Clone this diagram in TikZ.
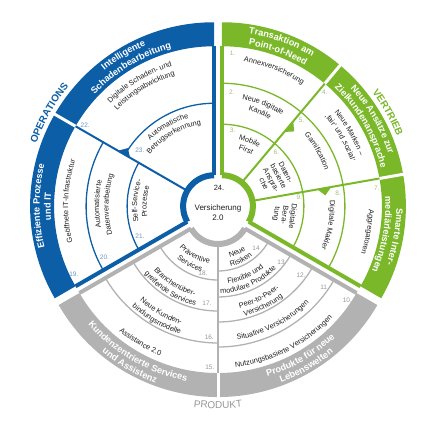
\documentclass[tikz,border=0pt]{standalone}
\usepackage{fontspec}
\setmainfont{Liberation Sans}
\setsansfont{Liberation Sans}
\usetikzlibrary{decorations.text}
\definecolor{opsBlue}   {RGB}{ 12, 94,166}
\definecolor{salesGreen}{RGB}{122,184, 42}
\definecolor{prodGray}  {RGB}{178,178,178}
\definecolor{itemText}  {RGB}{ 30, 30, 30}
\definecolor{numBlue}   {RGB}{110,150,195}
\definecolor{numGreen}  {RGB}{160,190,125}
\definecolor{numGray}   {RGB}{150,150,150}

\newcommand{\bandfont}{\bfseries\fontsize{9.2}{9.2}\selectfont}
\newcommand{\itemfont}{\fontsize{7.4}{8.2}\selectfont}
\newcommand{\titlefont}{\bfseries\fontsize{10}{10}\selectfont}
%% text on an arc: centre angle, baseline radius, colour, font, text
\newcommand{\cwtext}[5]{%
  \path[decorate, decoration={text along path, text align=center,
        text color=#3, text={|#4|#5}}]
    ({#1+50}:{#2}) arc[start angle={#1+50}, end angle={#1-50}, radius={#2}];}
\newcommand{\ccwtext}[5]{%
  \path[decorate, decoration={text along path, text align=center,
        text color=#3, text={|#4|#5}}]
    ({#1-50}:{#2}) arc[start angle={#1-50}, end angle={#1+50}, radius={#2}];}

\begin{document}
\begin{tikzpicture}[x=1pt, y=1pt,
  %% Outer edge of a sector
  rim/.style={line width=4pt},
  %% Divider between two fields
  split/.style={line width=2pt},
  %% Ring between two items
  ring/.style={line width=1.3pt},
  %% Ring round the centre
  hub/.style={line width=6pt},
  %% Item number
  num/.style={font=\fontsize{6.5}{6.5}\selectfont, inner sep=0pt},
  %% Straight item text
  item/.style={font=\itemfont, text=itemText, align=center, inner sep=0pt},
]
\useasboundingbox (-218,-220.5) rectangle (228,208.5);

%% ── Radii ───────────────────────────────────────────────────────────────────
\def\rOut{184}
\def\rIn{160}
\def\rHub{31}

%% ── OPERATIONS (blue) ──────────────────────────────────────────────────────
\begin{scope}[shift={(150:4.5)}]
  \fill[opsBlue] (90:\rOut) arc[start angle=90, end angle=210, radius=\rOut]
    -- (210:\rIn) arc[start angle=210, end angle=90, radius=\rIn] -- cycle;
  \draw[white, line width=3pt] (150:{\rIn-1}) -- (150:{\rOut+1});
  \draw[opsBlue, rim] (90:\rHub) -- (90:\rIn);
  \draw[opsBlue, rim] (210:\rHub) -- (210:\rIn);
  \draw[opsBlue, split] (150:\rHub) -- (150:\rIn);
  \draw[opsBlue, hub] (90:\rHub) arc[start angle=90, end angle=210, radius=\rHub];
  \draw[opsBlue, ring] (90:103) arc[start angle=90, end angle=150, radius=103];
  \draw[opsBlue, ring] (150:128) arc[start angle=150, end angle=210, radius=128];
  \draw[opsBlue, ring] (150:87) arc[start angle=150, end angle=210, radius=87];
  \fill[opsBlue] (150:97) -- (150:111) -- (146:104) -- cycle;

  \cwtext{121}{174.5}{white}{\bandfont}{Intelligente}
  \cwtext{121}{163.5}{white}{\bandfont}{Schadenbearbeitung}
  \cwtext{180}{174.5}{white}{\bandfont}{Effiziente Prozesse}
  \cwtext{180}{163.5}{white}{\bandfont}{und IT}

  \cwtext{121}{146}{itemText}{\itemfont}{Digitale Schaden- und}
  \cwtext{121}{136.5}{itemText}{\itemfont}{Leistungsabwicklung}
  \cwtext{120}{92}{itemText}{\itemfont}{Automatische}
  \cwtext{120}{82.5}{itemText}{\itemfont}{Betrugserkennung}
  \cwtext{178}{146}{itemText}{\itemfont}{Geöffnete IT-Infrastruktur}
  \cwtext{179}{115}{itemText}{\itemfont}{Automatisierte}
  \cwtext{179}{105.5}{itemText}{\itemfont}{Datenverarbeitung}
  \cwtext{176}{77}{itemText}{\itemfont}{Self-Service-}
  \cwtext{176}{67.5}{itemText}{\itemfont}{Prozesse}

  \node[num, text=numBlue] (n19) at (206:156) {19.};
  \node[num, text=numBlue] (n20) at (205:121) {20.};
  \node[num, text=numBlue] (n21) at (202:80) {21.};
  \node[num, text=numBlue] (n22) at (148:152) {22.};
  \node[num, text=numBlue] (n23) at (143:93) {23.};
\end{scope}

%% ── VERTRIEB (green) ───────────────────────────────────────────────────────
\begin{scope}[shift={(30:4.5)}]
  \fill[salesGreen] (90:\rOut) arc[start angle=90, end angle=-30, radius=\rOut]
    -- (-30:\rIn) arc[start angle=-30, end angle=90, radius=\rIn] -- cycle;
  \draw[white, line width=3pt] (50:{\rIn-1}) -- (50:{\rOut+1});
  \draw[white, line width=3pt] (10:{\rIn-1}) -- (10:{\rOut+1});
  \draw[salesGreen, rim] (90:\rHub) -- (90:\rIn);
  \draw[salesGreen, rim] (-30:\rHub) -- (-30:\rIn);
  \draw[salesGreen, split] (50:\rHub) -- (50:\rIn);
  \draw[salesGreen, split] (10:\rHub) -- (10:\rIn);
  \draw[salesGreen, hub] (90:\rHub) arc[start angle=90, end angle=-30, radius=\rHub];
  \draw[salesGreen, ring] (90:123) arc[start angle=90, end angle=-30, radius=123];
  \draw[salesGreen, ring] (90:82) arc[start angle=90, end angle=-30, radius=82];
  \fill[salesGreen] (50:97) -- (50:111) -- (46:104) -- cycle;
  \fill[salesGreen] (10:97) -- (10:111) -- (6:104) -- cycle;

  \cwtext{70}{174.5}{white}{\bandfont}{Transaktion am}
  \cwtext{70}{163.5}{white}{\bandfont}{Point-of-Need}
  \cwtext{30}{174.5}{white}{\bandfont}{Neue Ansätze zur}
  \cwtext{30}{163.5}{white}{\bandfont}{Zielkundenansprache}
  \cwtext{-10}{174.5}{white}{\bandfont}{Smarte Inter-}
  \cwtext{-10}{163.5}{white}{\bandfont}{mediärleistungen}

  \cwtext{69}{146}{itemText}{\itemfont}{Annexversicherung}
  \cwtext{68}{109}{itemText}{\itemfont}{Neue digitale}
  \cwtext{68}{99.5}{itemText}{\itemfont}{Kanäle}
  \cwtext{67}{69}{itemText}{\itemfont}{Mobile}
  \cwtext{67}{59.5}{itemText}{\itemfont}{First}
  \cwtext{30}{146.5}{itemText}{\itemfont}{Neue Marken –}
  \cwtext{30}{136.5}{itemText}{\itemfont}{‚fair‘ und ‚sozial‘}
  \cwtext{30}{109}{itemText}{\itemfont}{Gamification}
  \node[item, rotate=-62] (dat) at (28:60) {Daten-\\basierte\\Anspra-\\che};
  \cwtext{-10}{147}{itemText}{\itemfont}{Aggregatoren}
  \cwtext{-10}{108}{itemText}{\itemfont}{Digitale Makler}
  \node[item, rotate=-98] (dig) at (-8:63) {Digitale\\Bera-\\tung};

  \node[num, text=numGreen] (n1) at (86:153) {1.};
  \node[num, text=numGreen] (n2) at (85:114) {2.};
  \node[num, text=numGreen] (n3) at (82:77) {3.};
  \node[num, text=numGreen] (n4) at (48:154) {4.};
  \node[num, text=numGreen] (n5) at (47:117) {5.};
  \node[num, text=numGreen] (n6) at (45:77) {6.};
  \node[num, text=numGreen] (n7) at (6.5:156) {7.};
  \node[num, text=numGreen] (n8) at (6.5:117) {8.};
  \node[num, text=numGreen] (n9) at (6.5:78) {9.};
\end{scope}

%% ── PRODUKT (grey) ─────────────────────────────────────────────────────────
\begin{scope}[shift={(270:4.5)}]
  \fill[prodGray] (210:\rOut) arc[start angle=210, end angle=330, radius=\rOut]
    -- (330:\rIn) arc[start angle=330, end angle=210, radius=\rIn] -- cycle;
  \draw[white, line width=3pt] (270:{\rIn-1}) -- (270:{\rOut+1});
  \draw[prodGray, rim] (210:\rHub) -- (210:\rIn);
  \draw[prodGray, rim] (330:\rHub) -- (330:\rIn);
  \draw[prodGray, split] (270:\rHub) -- (270:\rIn);
  \draw[prodGray, hub] (210:\rHub) arc[start angle=210, end angle=330, radius=\rHub];
  \foreach \r in {67,98,130}
    \draw[prodGray, ring] (210:\r) arc[start angle=210, end angle=270, radius=\r];
  \foreach \r in {58,84,109,134}
    \draw[prodGray, ring] (270:\r) arc[start angle=270, end angle=330, radius=\r];

  \ccwtext{240}{171}{white}{\bandfont}{Kundenzentrierte Services}
  \ccwtext{240}{181}{white}{\bandfont}{und Assistenz}
  \ccwtext{300}{171}{white}{\bandfont}{Produkte für neue}
  \ccwtext{300}{181}{white}{\bandfont}{Lebenswelten}

  \ccwtext{241}{51.5}{itemText}{\itemfont}{Präventive}
  \ccwtext{241}{61}{itemText}{\itemfont}{Services}
  \ccwtext{238}{86}{itemText}{\itemfont}{Branchenüber-}
  \ccwtext{238}{95.5}{itemText}{\itemfont}{greifende Services}
  \ccwtext{240}{117.5}{itemText}{\itemfont}{Neue Kunden-}
  \ccwtext{240}{127}{itemText}{\itemfont}{bindungsmodelle}
  \ccwtext{239}{154}{itemText}{\itemfont}{Assistance 2.0}
  \ccwtext{296}{46}{itemText}{\itemfont}{Neue}
  \ccwtext{296}{55}{itemText}{\itemfont}{Risiken}
  \ccwtext{294}{71.5}{itemText}{\itemfont}{Flexible und}
  \ccwtext{294}{80.5}{itemText}{\itemfont}{modulare Produkte}
  \ccwtext{296}{97.5}{itemText}{\itemfont}{Peer-to-Peer-}
  \ccwtext{296}{106.5}{itemText}{\itemfont}{Versicherung}
  \ccwtext{297}{128}{itemText}{\itemfont}{Situative Versicherungen}
  \ccwtext{297}{155}{itemText}{\itemfont}{Nutzungsbasierte Versicherungen}

  \node[num, text=numGray] (n10) at (326:156) {10.};
  \node[num, text=numGray] (n11) at (325:129) {11};
  \node[num, text=numGray] (n12) at (323:104) {12.};
  \node[num, text=numGray] (n13) at (322:80) {13};
  \node[num, text=numGray] (n14) at (317:52) {14};
  \node[num, text=numGray] (n15) at (267:155) {15.};
  \node[num, text=numGray] (n16) at (266:125) {16.};
  \node[num, text=numGray] (n17) at (263:91) {17.};
  \node[num, text=numGray] (n18) at (256:62) {18.};
\end{scope}

%% ── CENTRE ─────────────────────────────────────────────────────────────────
\node[num, text=itemText, font=\fontsize{7.5}{7.5}\selectfont] (n24) at (1,21) {24.};
\node[item, font=\fontsize{8}{9.5}\selectfont] (hubtxt) at (0,-4) {Versicherung\\2.0};

%% ── SECTOR TITLES ──────────────────────────────────────────────────────────
\cwtext{150.5}{193}{opsBlue}{\titlefont}{OPERATIONS}
\cwtext{29.5}{193}{salesGreen}{\titlefont}{VERTRIEB}
\ccwtext{270}{200}{numGray}{\fontsize{10}{10}\selectfont}{PRODUKT}

\end{tikzpicture}
\end{document}
